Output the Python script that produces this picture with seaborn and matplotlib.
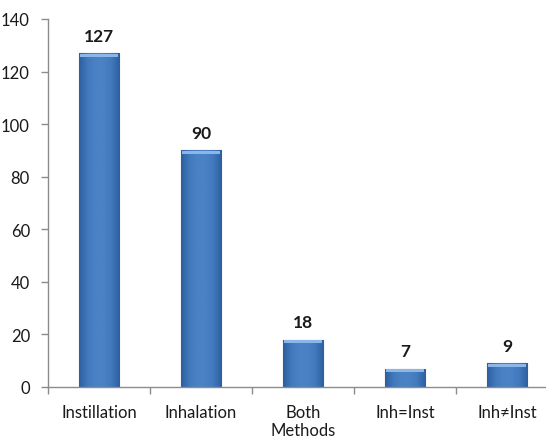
import matplotlib
matplotlib.use("Agg")
import matplotlib.pyplot as plt
import matplotlib.colors as mcolors
import numpy as np
import seaborn as sns
import pandas as pd

categories = ["Instillation", "Inhalation", "Both\nMethods", "Inh=Inst", "Inh\u2260Inst"]
counts = [127, 90, 18, 7, 9]
y_ticks = [0, 20, 40, 60, 80, 100, 120, 140]

sns.set_theme(style="white")
plt.rcParams["font.family"] = ["Lato", "DejaVu Sans"]

df = pd.DataFrame({"method": categories, "count": counts})

fig = plt.figure(figsize=(5.46, 4.39), dpi=100)
# plot area runs a little past the right edge of the figure
ax = fig.add_axes([48 / 546, 51 / 439, 510 / 546, 368 / 439])

sns.barplot(data=df, x="method", y="count", ax=ax, color="#3f74b5",
            saturation=1, width=0.40, edgecolor="#2b5a96", linewidth=0.8)

# shaded bar bodies: darker towards the sides, lighter bevel on top
body = mcolors.LinearSegmentedColormap.from_list(
    "body", ["#2d5f9f", "#4179bd", "#4a82c4", "#4a82c4", "#4179bd", "#2d5f9f"])
grad = np.linspace(0, 1, 64).reshape(1, -1)
for patch in ax.patches:
    x0, w, h = patch.get_x(), patch.get_width(), patch.get_height()
    im = ax.imshow(grad, cmap=body, aspect="auto", extent=[x0, x0 + w, 0, h],
                   zorder=patch.get_zorder() + 0.5, interpolation="bicubic")
    im.set_clip_path(patch)
    ax.fill_between([x0 + 0.012, x0 + w - 0.012], h - 1.3, h - 0.25,
                    color="#8ab6ea", linewidth=0, zorder=patch.get_zorder() + 1)

for i, v in enumerate(counts):
    ax.text(i, v + 3.6, str(v), ha="center", va="bottom",
            fontsize=12.5, fontweight="bold", color="#1a1a1a")

ax.set_ylim(0, 140)
ax.set_xlim(-0.5, len(categories) - 0.5)
ax.set_yticks(y_ticks)
ax.set_xlabel("")
ax.set_ylabel("")

for side in ["top", "right"]:
    ax.spines[side].set_visible(False)
for side in ["left", "bottom"]:
    ax.spines[side].set_color("#8c8c8c")
    ax.spines[side].set_linewidth(1.0)

ax.set_xticks([i - 0.5 for i in range(len(categories) + 1)], minor=True)
ax.tick_params(axis="x", which="major", length=0, pad=12, labelsize=12, colors="#1a1a1a")
for lbl in ax.get_xticklabels():
    lbl.set_linespacing(1.15)
ax.tick_params(axis="x", which="minor", length=5, width=1, color="#8c8c8c", direction="out", bottom=True)
ax.tick_params(axis="y", length=5, width=1, color="#8c8c8c", direction="out", left=True,
               labelsize=12, colors="#1a1a1a", pad=8)

fig.savefig("out.png", dpi=100)
